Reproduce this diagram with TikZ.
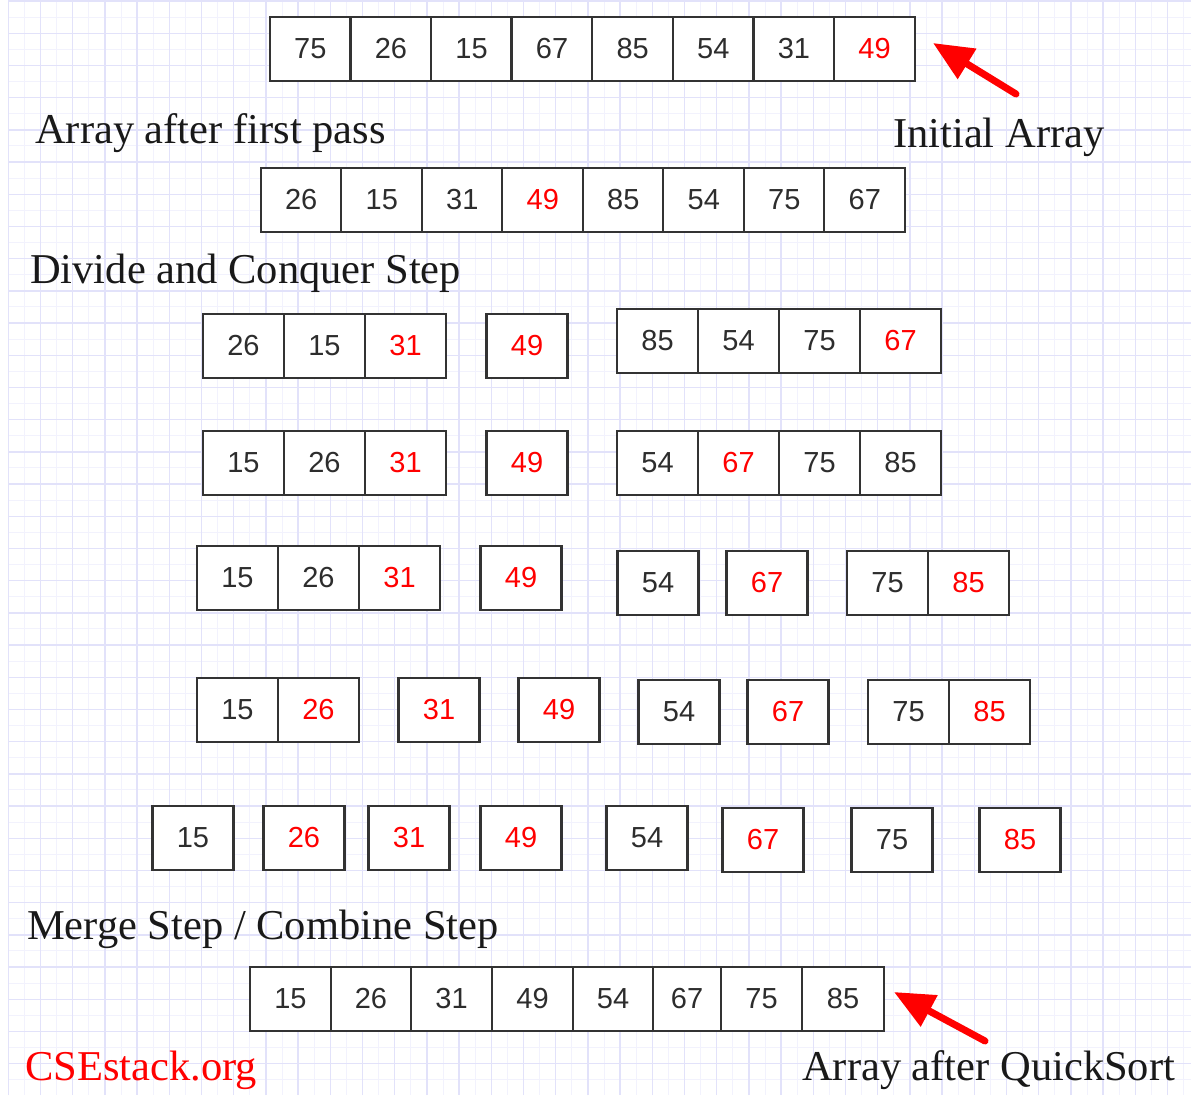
\documentclass[tikz,border=0pt]{standalone}
\usepackage{fontspec}
\setmainfont{Liberation Serif}
\newfontfamily\cellfont{Liberation Sans}
\usepackage{xcolor}
\usetikzlibrary{positioning,arrows.meta}
\definecolor{gridmajor}{RGB}{226,226,250}
\definecolor{gridminor}{RGB}{242,242,253}
\definecolor{boxline}{RGB}{51,51,51}
\definecolor{numgray}{RGB}{45,45,45}
\tikzset{
cell/.style={
draw=boxline,
line width=2.4pt,
fill=white,
minimum width=81pt,
minimum height=64pt,
inner sep=0pt,
outer sep=0pt,
font=\cellfont\fontsize{29}{30}\selectfont,
text=numgray
},
elem/.style={},
pivot/.style={text=red},
caption/.style={
anchor=base west,
inner sep=0pt,
font=\fontsize{42.5}{45}\selectfont,
text=black!90
},
pointer/.style={
-{Triangle[length=40pt,width=34pt]},
line width=7pt,
line cap=round,
draw=red
}
}

\begin{document}
\begin{tikzpicture}[x=1pt,y=-1pt]
\useasboundingbox[fill=white] (0,0) rectangle (1191,1095);

% grid paper
\begin{scope}[shift={(8.3,1)}]
\draw[gridminor,line width=1pt,step=16.1pt] (0,0) grid (1183,1094);
\draw[gridmajor,line width=1.4pt,step=32.2pt] (0,0) grid (1183,1094);
\end{scope}

% initial array and first pass
\foreach \v/\s [count=\i] in {75/elem,26/elem,15/elem,67/elem,85/elem,54/elem,31/elem,49/pivot}
\node[cell,\s](init\i) at ({270+(\i-0.5)*80.6},49){\v};
\foreach \v/\s [count=\i] in {26/elem,15/elem,31/elem,49/pivot,85/elem,54/elem,75/elem,67/elem}
\node[cell,\s](first\i) at ({261+(\i-0.5)*80.5},200){\v};

% divide and conquer
\foreach \v/\s [count=\i] in {26/elem,15/elem,31/pivot}
\node[cell,\s](oneA\i) at ({203+(\i-0.5)*81},346){\v};
\node[cell,pivot](oneB) at (527,346){49};
\foreach \v/\s [count=\i] in {85/elem,54/elem,75/elem,67/pivot}
\node[cell,\s](oneC\i) at ({617+(\i-0.5)*81},341){\v};

\foreach \v/\s [count=\i] in {15/elem,26/elem,31/pivot}
\node[cell,\s](twoA\i) at ({203+(\i-0.5)*81},463){\v};
\node[cell,pivot](twoB) at (527,463){49};
\foreach \v/\s [count=\i] in {54/elem,67/pivot,75/elem,85/elem}
\node[cell,\s](twoC\i) at ({617+(\i-0.5)*81},463){\v};

\foreach \v/\s [count=\i] in {15/elem,26/elem,31/pivot}
\node[cell,\s](threeA\i) at ({197+(\i-0.5)*81},578){\v};
\node[cell,pivot](threeB) at (521,578){49};
\node[cell](threeC) at (658,583){54};
\node[cell,pivot](threeD) at (767,583){67};
\foreach \v/\s [count=\i] in {75/elem,85/pivot}
\node[cell,\s](threeE\i) at ({847+(\i-0.5)*81},583){\v};

\foreach \v/\s [count=\i] in {15/elem,26/pivot}
\node[cell,\s](fourA\i) at ({197+(\i-0.5)*81},710){\v};
\node[cell,pivot](fourB) at (439,710){31};
\node[cell,pivot](fourC) at (559,710){49};
\node[cell](fourD) at (679,712){54};
\node[cell,pivot](fourE) at (788,712){67};
\foreach \v/\s [count=\i] in {75/elem,85/pivot}
\node[cell,\s](fourF\i) at ({868+(\i-0.5)*81},712){\v};

\foreach \v/\s/\x/\y [count=\i] in {15/elem/193/838,26/pivot/304/838,31/pivot/409/838,49/pivot/521/838,54/elem/647/838,67/pivot/763/840,75/elem/892/840,85/pivot/1020/840}
\node[cell,\s](five\i) at (\x,\y){\v};

% merged result
\foreach \v/\l/\r [count=\i] in {15/250/331,26/331/411,31/411/492,49/492/573,54/573/653,67/653/721,75/721/802,85/802/884}
\node[cell,minimum width={(\r-\l)*1pt}](final\i) at ({(\l+\r)/2},999){\v};

% captions
\node[caption](firstlbl) at (35,143){Array after first pass};
\node[caption](initlbl) at (893,147){Initial Array};
\node[caption](dividelbl) at (30,283){Divide and Conquer Step};
\node[caption](mergelbl) at (27,939){Merge Step / Combine Step};
\node[caption,text=red](sitelbl) at (25,1080){CSEstack.org};
\node[caption](sortedlbl) at (802,1080){Array after QuickSort};

% pointers
\coordinate(inittail) at (1016,94);
\draw[pointer](inittail)--([xshift=18pt,yshift=6pt]init8.east);
\coordinate(sortedtail) at (985,1041);
\draw[pointer](sortedtail)--([xshift=10pt,yshift=7pt]final8.east);
\end{tikzpicture}
\end{document}
